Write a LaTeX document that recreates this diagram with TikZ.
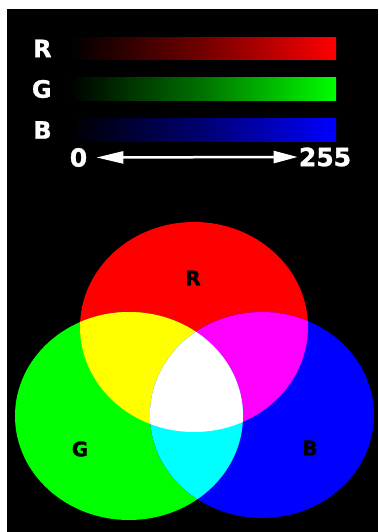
\documentclass[tikz,border=0pt]{standalone}
\usepackage{fontspec}
\setmainfont{DejaVu Sans}
\newfontfamily\heavy{DejaVu Sans Bold}[FakeBold=1.2]
\usepackage{tikz}
\usetikzlibrary{positioning,arrows.meta}
\usepackage{xcolor}

\definecolor{pureR}{RGB}{255, 0, 0}
\definecolor{pureG}{RGB}{0, 255, 0}
\definecolor{pureB}{RGB}{0, 0, 255}
\definecolor{pureY}{RGB}{255, 255, 0}
\definecolor{pureM}{RGB}{255, 0, 255}
\definecolor{pureC}{RGB}{0, 255, 255}
\definecolor{pureW}{RGB}{255, 255, 255}

\newcommand{\redpath}{(194,327) ellipse [x radius=114, y radius=105]}
\newcommand{\greenpath}{(129,416) ellipse [x radius=114, y radius=104]}
\newcommand{\bluepath}{(262,415) ellipse [x radius=112, y radius=103]}

\begin{document}
\begin{tikzpicture}[
	x=1pt, y=-1pt,
	bar/.style={minimum width=266pt, minimum height=22.5pt, inner sep=0pt, left color=black},
	chan/.style={text=white, font=\fontsize{24}{24}\selectfont\heavy, inner sep=0pt},
	scale label/.style={text=white, font=\fontsize{25}{25}\selectfont\heavy, inner sep=0pt},
	spot/.style={text=black, font=\fontsize{20}{20}\selectfont\heavy, inner sep=0pt},
	arr/.style={{Triangle[length=27pt,width=12pt]}-{Triangle[length=24pt,width=12pt]}, white, line width=2.5pt}
	]
	\useasboundingbox (0,0) rectangle (378,532);
	\fill[white] (0,0) rectangle (378,532);
	\fill[black] (7,9) rectangle (378,532);

	% channel bars
	\node[bar, right color=pureR, middle color=pureR!45!black] (rbar) at (203,48.5)  {};
	\node[bar, right color=pureG, middle color=pureG!45!black] (gbar) at (203,89)    {};
	\node[bar, right color=pureB, middle color=pureB!45!black] (bbar) at (203,130)   {};
	\node[chan] (rlab) [left=18pt of rbar] {R};
	\node[chan] (glab) [left=18pt of gbar] {G};
	\node[chan] (blab) [left=18pt of bbar] {B};

	% value range
	\node[scale label] (zero) at (78.5,157.5) {0};
	\node[scale label] (max)  at (325,157)   {255};
	\draw[arr, shorten <=9pt, shorten >=1pt] (zero.east) -- (max.west);

	% additive mixing
	\fill[pureR] \redpath;
	\fill[pureG] \greenpath;
	\fill[pureB] \bluepath;
	\begin{scope}
		\clip \redpath;
		\fill[pureY] \greenpath;
		\fill[pureM] \bluepath;
	\end{scope}
	\begin{scope}
		\clip \greenpath;
		\fill[pureC] \bluepath;
	\end{scope}
	\begin{scope}
		\clip \redpath;
		\clip \greenpath;
		\fill[pureW] \bluepath;
	\end{scope}

	\node[spot] (rspot) at (193,278) {R};
	\node[spot] (gspot) at (80,449)  {G};
	\node[spot] (bspot) at (310,448) {B};
\end{tikzpicture}
\end{document}
